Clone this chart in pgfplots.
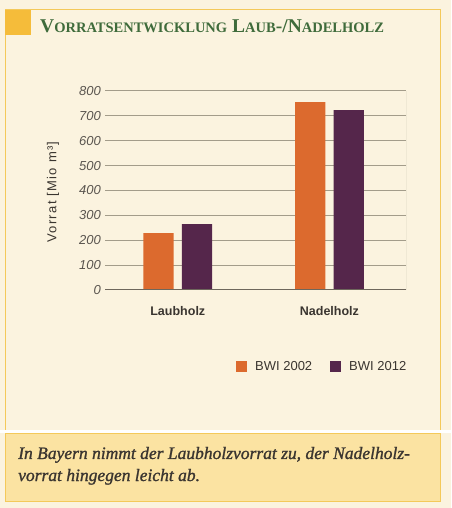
\documentclass[border=0pt]{standalone}
\usepackage{fontspec}
\setmainfont{Liberation Serif}
\setsansfont{Liberation Sans}
\usepackage{pgfplots}
\pgfplotsset{compat=1.18}

\definecolor{bgcream}{HTML}{FBF3DF}
\definecolor{framec}{HTML}{F4C95A}
\definecolor{squarec}{HTML}{F5BC3A}
\definecolor{capbox}{HTML}{FBE3A2}
\definecolor{titlegreen}{HTML}{3F6B3B}
\definecolor{gridc}{HTML}{A39C8A}
\definecolor{basec}{HTML}{6E675C}
\definecolor{bwiA}{HTML}{DC6A2E}
\definecolor{bwiB}{HTML}{55264B}
\definecolor{textc}{HTML}{3A3530}
\definecolor{tickc}{HTML}{5A554F}

\newcommand\bigc[1]{{\fontsize{19.5}{19.5}\selectfont #1}}
\newcommand\smc[1]{{\fontsize{14.5}{14.5}\selectfont #1}}

\begin{document}
\begin{tikzpicture}[x=1pt,y=1pt]
% page frame (pixel coords: y = 508 - row)
\fill[bgcream] (0,0) rectangle (451,508);
\draw[framec, line width=1pt] (5,77) rectangle (440,498);
\fill[white] (0,74.5) rectangle (451,77.5);
\fill[capbox] (5,6) rectangle (440,74);
\draw[framec, line width=1pt] (5,6) rectangle (440,74);
\fill[squarec] (5,473) rectangle (31,498);
\path[use as bounding box] (0,0) rectangle (451,508);

\node[anchor=base west, inner sep=0pt, text=titlegreen, font=\bfseries] at (40,475)
  {\bigc{V}\smc{ORRATSENTWICKLUNG}\hspace{5pt}\bigc{L}\smc{AUB}\bigc{-/N}\smc{ADELHOLZ}};

\node[rotate=90, inner sep=0pt, text=textc, font=\sffamily\fontsize{13}{13}\selectfont\addfontfeature{LetterSpace=10}] at (53,316) {Vorrat [Mio m³]};

\begin{axis}[
    at={(105pt,218pt)}, anchor=south west,
    scale only axis, width=301pt, height=199pt,
    xmin=-0.48, xmax=1.505, ymin=0, ymax=800,
    ytick={0,100,...,800},
    xtick={0,1}, xticklabels={Laubholz,Nadelholz},
    major tick length=0pt,
    axis line style={draw=none},
    ymajorgrids, grid style={gridc, line width=1pt},
    yticklabel style={inner sep=0pt, xshift=-4pt, text=tickc,
      font=\sffamily\itshape\fontsize{13}{13}\selectfont},
    /pgf/number format/assume math mode=true,
    xticklabel style={yshift=-13pt, text=textc,
      font=\sffamily\bfseries\fontsize{12.5}{12.5}\selectfont},
    legend columns=2,
    legend style={at={(0.435,-0.384)}, anchor=west, draw=none, fill=none,
      inner sep=0pt,
      nodes={inner sep=0pt, text=textc, font=\sffamily\fontsize{13}{13}\selectfont},
      /tikz/every odd column/.append style={column sep=8pt},
      /tikz/every even column/.append style={column sep=18pt}},
    legend image code/.code={\fill[#1] (0pt,-5.5pt) rectangle (11pt,5.5pt);},
  ]
  \addplot[ybar, bar width=0.2, bar shift=-0.127, fill=bwiA, draw=none]
    coordinates {(0,229) (1,755)};
  \addplot[ybar, bar width=0.2, bar shift=0.127, fill=bwiB, draw=none]
    coordinates {(0,265) (1,723)};
  \legend{BWI 2002, BWI 2012}
  \draw[gridc, line width=1pt] (rel axis cs:1,0) -- (rel axis cs:1,1);
  \draw[basec, line width=1pt] (rel axis cs:0,0) -- (rel axis cs:1,0);
\end{axis}

\node[anchor=base west, inner sep=0pt, text=textc, font=\itshape\fontsize{17.5}{17.5}\selectfont\addfontfeature{FakeBold=1.2}] at (18,49)
  {In Bayern nimmt der Laubholzvorrat zu, der Nadelholz-};
\node[anchor=base west, inner sep=0pt, text=textc, font=\itshape\fontsize{17.5}{17.5}\selectfont\addfontfeature{FakeBold=1.2}] at (18,27)
  {vorrat hingegen leicht ab.};
\end{tikzpicture}
\end{document}
